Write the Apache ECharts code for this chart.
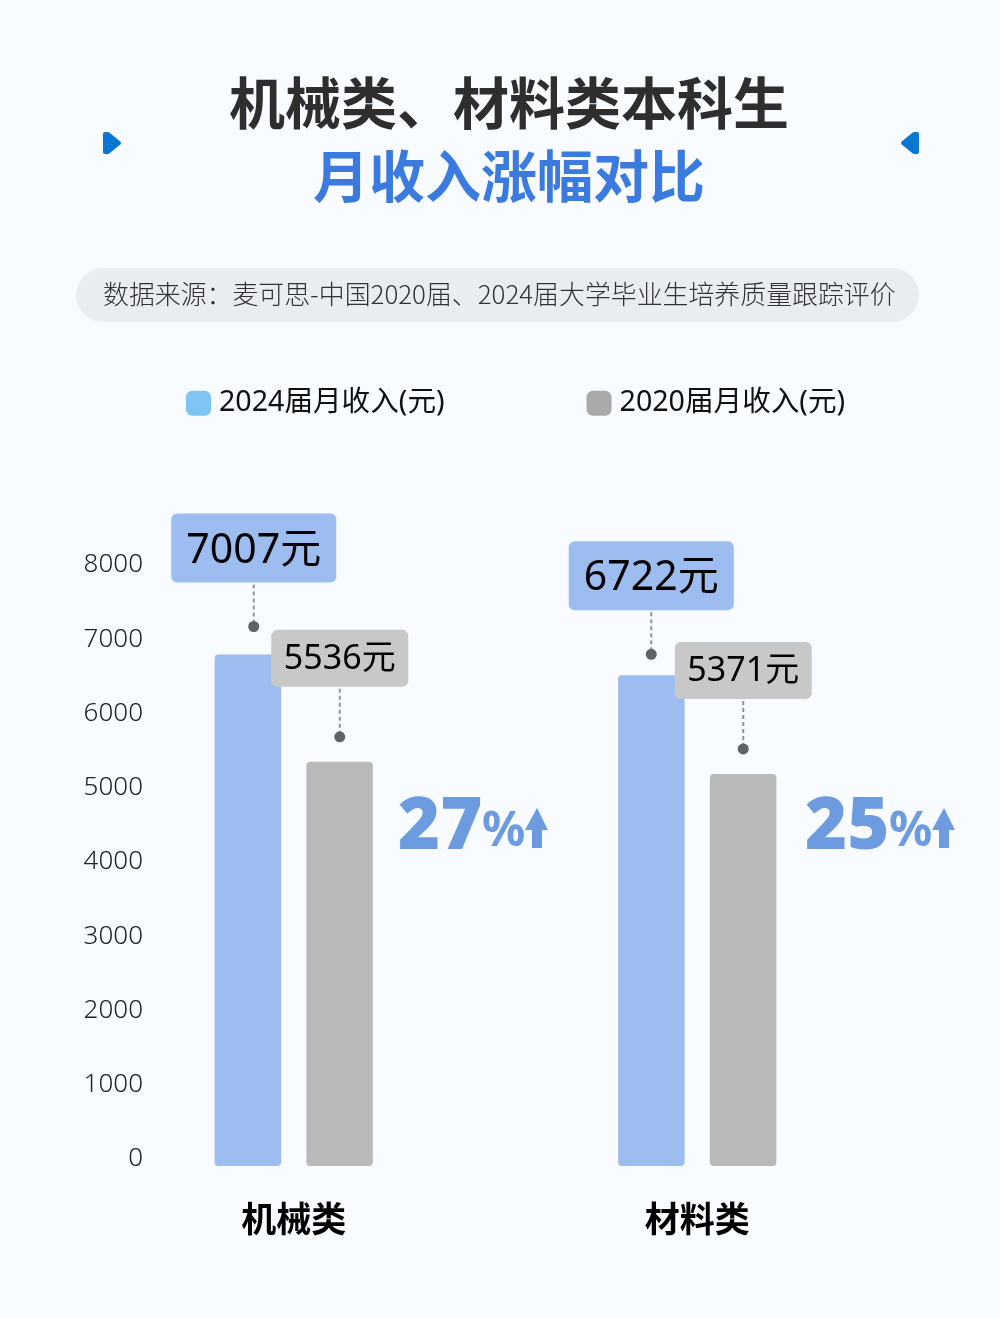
<!DOCTYPE html>
<html>
<head>
<meta charset="utf-8">
<style>html,body{margin:0;padding:0;background:#f8fbff}#main{width:1000px;height:1318px}</style>
<script src="https://cdn.jsdelivr.net/npm/echarts@6/dist/echarts.min.js"></script>
</head>
<body>
<div id="main"></div>
<script>
var categories = ['机械类', '材料类'];
var income2024 = [7007, 6722];
var income2020 = [5536, 5371];
var growth = ['27', '25'];
var name2024 = '2024届月收入(元)';
var name2020 = '2020届月收入(元)';
var sourceText = '数据来源：麦可思-中国2020届、2024届大学毕业生培养质量跟踪评价';

var cjk = '"Noto Sans CJK SC"';
var latin = '"Noto Sans","Noto Sans CJK SC"';
var blue = '#9dbcf0', gray = '#b9b9b9', accent = '#6c9be0';

// callout layout, per bar: dot height above the bar, x shift from the bar centre
var dotAbove2024 = [28, 21], dotShift2024 = [6, 0];
var dotAbove2020 = [25, 25], dotShift2020 = [0, 0];

function callout(values, above, shift, slot, box) {
	return {
		type: 'custom',
		xAxisIndex: 1,
		yAxisIndex: 1,
		z: 10,
		silent: true,
		data: values.map(function (v, i) { return [i, v]; }),
		renderItem: function (params, api) {
			var i = api.value(0);
			var p = api.coord([i, api.value(1)]);
			var cx = p[0] + slot + shift[i];
			var dotY = p[1] - above[i];
			return {
				type: 'group',
				children: [
					{ type: 'line', shape: { x1: cx, y1: dotY - box.gap + 2, x2: cx, y2: dotY }, style: { stroke: '#8f9296', lineWidth: 2, lineDash: [4, 3] } },
					{ type: 'circle', shape: { cx: cx, cy: dotY, r: 5.5 }, style: { fill: '#5f6266' } },
					{ type: 'rect', shape: { x: cx - box.w / 2, y: dotY - box.gap - box.h, width: box.w, height: box.h, r: 6 }, style: { fill: box.fill } },
					{ type: 'text', x: cx, y: dotY - box.gap - box.h / 2 + box.dy, style: { text: api.value(1) + '元', fill: '#000', font: box.size + 'px ' + latin, align: 'center', verticalAlign: 'middle' } }
				]
			};
		}
	};
}

// big growth figures sit to the right of each group
function growthItems() {
	var items = [];
	var lefts = [398, 805];
	growth.forEach(function (g, i) {
		var x = lefts[i];
		items.push({ type: 'text', x: x, y: 828, style: { text: g, fill: accent, font: '900 72px "Noto Sans"', verticalAlign: 'middle' } });
		items.push({ type: 'text', x: x + 84, y: 832, style: { text: '%', fill: accent, font: 'bold 48px "Noto Sans"', verticalAlign: 'middle' } });
		items.push({ type: 'polygon', shape: { points: [[x + 127, 830], [x + 139, 808], [x + 150, 830], [x + 144, 830], [x + 144, 848], [x + 134, 848], [x + 134, 830]] }, style: { fill: accent } });
	});
	return items;
}

var option = {
	backgroundColor: '#f8fbff',
	animation: false,
	textStyle: { fontFamily: cjk },
	legend: {
		left: 181,
		top: 384,
		itemWidth: 25,
		itemHeight: 25,
		itemGap: 142,
		icon: 'roundRect',
		textStyle: { fontSize: 28.6, color: '#111', padding: [0, 0, 0, 3], fontFamily: latin },
		data: [
			{ name: name2024, itemStyle: { color: '#7ec4f4' } },
			{ name: name2020, itemStyle: { color: '#aaaaaa' } }
		]
	},
	// axis labels in the source sit on their own scale, a little off from the bars
	grid: [
		{ left: 92, right: 101, top: 565, height: 594 },
		{ left: 92, right: 101, top: 582, height: 584 }
	],
	xAxis: [
		{ type: 'category', gridIndex: 0, data: categories, show: false },
		{
			type: 'category', gridIndex: 1, data: categories,
			axisLine: { show: false }, axisTick: { show: false },
			axisLabel: { fontSize: 35, fontWeight: 'bold', color: '#000', margin: 35, fontFamily: cjk }
		}
	],
	yAxis: [
		{
			type: 'value', gridIndex: 0, min: 0, max: 8000, interval: 1000,
			axisLine: { show: false }, axisTick: { show: false }, splitLine: { show: false },
			axisLabel: { fontSize: 26, color: '#222', margin: -51, align: 'right', fontWeight: 300, fontFamily: latin, formatter: function (v) { return String(v); } }
		},
		{ type: 'value', gridIndex: 1, min: 0, max: 8000, show: false, splitLine: { show: false } }
	],
	series: [
		{ name: name2024, type: 'bar', xAxisIndex: 1, yAxisIndex: 1, data: income2024, barWidth: 66.5, barGap: '38%', itemStyle: { color: blue, borderRadius: [4, 4, 4, 4] } },
		{ name: name2020, type: 'bar', xAxisIndex: 1, yAxisIndex: 1, data: income2020, barWidth: 66.5, itemStyle: { color: gray, borderRadius: [4, 4, 4, 4] } },
		callout(income2024, dotAbove2024, dotShift2024, -46, { w: 165, h: 69, gap: 44, fill: blue, size: 41, dy: 3 }),
		callout(income2020, dotAbove2020, dotShift2020, 46, { w: 137, h: 57, gap: 50, fill: '#c8c8c8', size: 34, dy: 1 })
	],
	graphic: [
		{ type: 'text', x: 509, y: 103, style: { text: '机械类、材料类本科生', fill: '#2e2e2e', font: 'bold 56px ' + cjk, align: 'center', verticalAlign: 'middle' } },
		{ type: 'text', x: 509, y: 176, style: { text: '月收入涨幅对比', fill: '#3b7be0', font: 'bold 56px ' + cjk, align: 'center', verticalAlign: 'middle' } },
		{ type: 'polygon', shape: { points: [[105, 134], [108, 134], [119, 143], [108, 152], [105, 152]] }, style: { fill: '#0a78d2', stroke: '#0a78d2', lineWidth: 4, lineJoin: 'round' } },
		{ type: 'polygon', shape: { points: [[917, 134], [914, 134], [903, 143], [914, 152], [917, 152]] }, style: { fill: '#0a78d2', stroke: '#0a78d2', lineWidth: 4, lineJoin: 'round' } },
		{ type: 'rect', shape: { x: 76, y: 268, width: 843, height: 54, r: 27 }, style: { fill: '#e9ecf0' } },
		{ type: 'text', x: 103, y: 294, style: { text: sourceText, fill: '#333', font: '300 25.9px ' + cjk, verticalAlign: 'middle' } }
	].concat(growthItems())
};

var myChart = echarts.init(document.getElementById('main'));
myChart.setOption(option);
</script>
</body>
</html>
